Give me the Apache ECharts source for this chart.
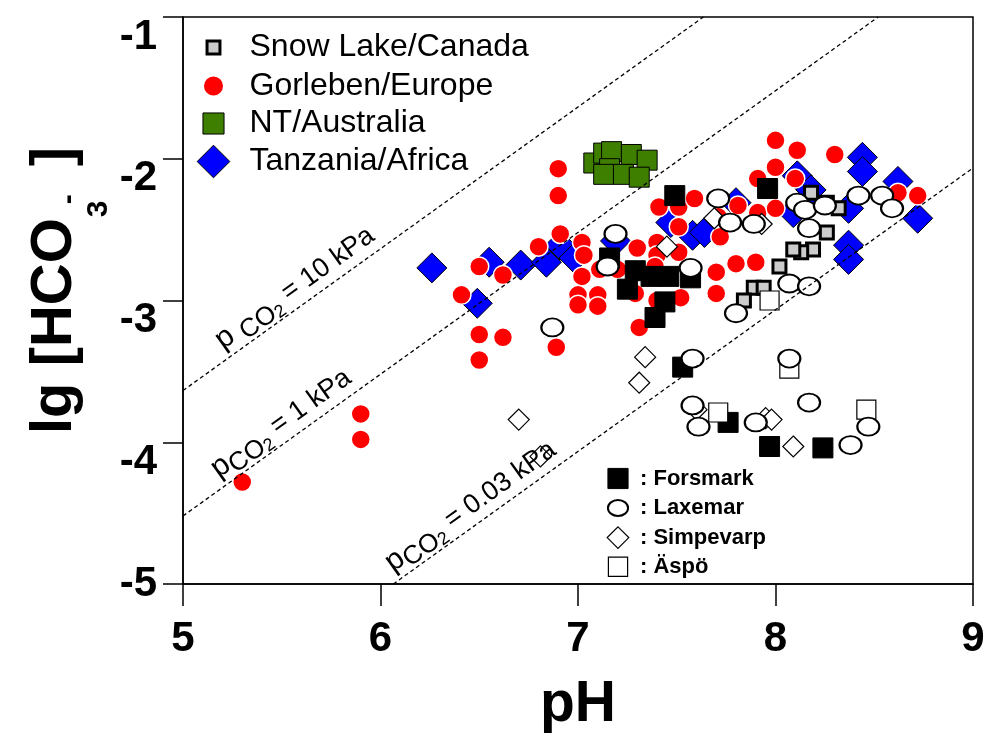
<!DOCTYPE html>
<html>
<head>
<meta charset="utf-8">
<title>lg [HCO3-] vs pH</title>
<script src="https://cdn.jsdelivr.net/npm/echarts@6/dist/echarts.min.js"></script>
<style>
  html, body { margin: 0; padding: 0; background: #fff; }
  #chart { width: 990px; height: 733px; }
</style>
</head>
<body>
<div id="chart"></div>
<script>
// ---- data: [pH, lg HCO3-] ----
const snowLake = [
  [8.18, -2.24], [8.26, -2.31], [8.32, -2.35], [8.26, -2.52], [8.19, -2.64],
  [8.13, -2.66], [8.09, -2.64], [8.02, -2.76], [7.89, -2.91], [7.94, -2.91], [7.84, -3.00]
];
const gorleben = [
  [5.30, -4.28], [5.90, -3.80], [5.90, -3.98], [6.41, -2.96], [6.50, -2.76],
  [6.62, -2.82], [6.50, -3.24], [6.62, -3.26], [6.50, -3.42], [6.80, -2.62],
  [6.89, -3.33], [6.90, -2.07], [6.90, -2.26], [6.91, -2.53], [7.02, -2.59],
  [7.03, -2.68], [7.02, -2.83], [7.00, -2.96], [7.10, -2.96], [7.00, -3.03],
  [7.10, -3.04], [7.11, -2.78], [7.20, -2.78], [7.30, -2.63], [7.31, -3.19],
  [7.29, -2.95], [7.40, -2.59], [7.40, -2.68], [7.39, -2.76], [7.51, -2.48],
  [7.51, -2.66], [7.52, -2.98], [7.40, -3.00], [7.41, -2.34], [7.51, -2.34],
  [7.59, -2.28], [7.71, -2.41], [7.72, -2.55], [7.80, -2.74], [7.90, -2.73],
  [7.70, -2.80], [7.70, -2.95], [7.91, -2.38], [8.00, -2.35], [8.00, -1.87],
  [8.11, -1.94], [8.30, -1.97], [8.00, -2.06], [7.91, -2.14], [8.10, -2.14],
  [8.62, -2.24], [8.72, -2.26], [7.81, -2.33]
];
const ntAustralia = [
  [7.08, -2.03], [7.13, -1.96], [7.17, -1.95], [7.27, -1.97], [7.35, -2.01],
  [7.16, -2.07], [7.13, -2.11], [7.23, -2.11], [7.31, -2.13]
];
const tanzania = [
  [6.26, -2.77], [6.55, -2.73], [6.49, -3.02], [6.71, -2.75], [6.84, -2.73],
  [6.91, -2.61], [6.98, -2.70], [7.19, -2.58], [7.47, -2.45], [7.58, -2.54],
  [7.64, -2.52], [7.80, -2.31], [8.11, -2.12], [8.18, -2.22], [8.09, -2.38],
  [8.37, -2.35], [8.44, -1.99], [8.44, -2.09], [8.62, -2.16], [8.72, -2.42],
  [8.37, -2.61], [8.37, -2.71]
];
const forsmark = [
  [7.16, -2.70], [7.25, -2.92], [7.29, -2.79], [7.37, -2.83], [7.46, -2.83],
  [7.57, -2.84], [7.44, -3.01], [7.39, -3.12], [7.49, -2.26], [7.96, -2.21],
  [7.53, -3.47], [7.76, -3.86], [7.97, -4.03], [8.24, -4.04]
];
const laxemar = [
  [7.15, -2.76], [7.19, -2.53], [6.87, -3.19], [7.57, -2.77], [7.71, -2.28],
  [7.77, -2.45], [7.89, -2.46], [8.11, -2.31], [8.15, -2.36], [8.25, -2.33],
  [8.17, -2.49], [8.07, -2.88], [8.17, -2.90], [7.80, -3.09], [8.42, -2.26],
  [8.54, -2.26], [8.59, -2.35], [7.58, -3.41], [8.07, -3.41], [7.58, -3.74],
  [7.61, -3.89], [7.90, -3.86], [8.17, -3.72], [8.38, -4.02], [8.47, -3.89]
];
const simpevarp = [
  [6.70, -3.84], [6.81, -4.10], [7.31, -3.58], [7.34, -3.40], [7.45, -2.62],
  [7.69, -2.42], [7.93, -2.46], [7.60, -3.77], [7.95, -3.83], [7.98, -3.84], [8.09, -4.03]
];
const aspo = [
  [7.97, -3.00], [8.07, -3.48], [7.71, -3.79], [8.46, -3.77]
];

// CO2 partial-pressure isolines (end points) and their captions
const pco2Lines = [
  { text: '10 kPa',   gap: true,  anchor: 5.62, from: [5, -3.635],  to: [7.635, -1] },
  { text: '1 kPa',    gap: false, anchor: 5.55, from: [5, -4.52],   to: [8.52, -1] },
  { text: '0.03 kPa', gap: false, anchor: 6.51, from: [6.065, -5],  to: [9, -2.065] }
];

const FONT = '"Liberation Sans", Arial, Helvetica, sans-serif';

// legend icons drawn in a 100x100 box (the bare moves fix the box extent)
const BOX = 'path://M0 0M100 100';
const icons = {
  smallSquare: BOX + 'M31 31L69 31L69 69L31 69Z',
  dot: BOX + 'M22 50A28 28 0 1 1 78 50A28 28 0 1 1 22 50Z',
  midSquare: BOX + 'M19 19L81 19L81 81L19 81Z',
  diamond: BOX + 'M50 2L98 50L50 98L2 50Z',
  fullSquare: BOX + 'M8 8L92 8L92 92L8 92Z',
  ellipse: BOX + 'M8 50A42 33 0 1 1 92 50A42 33 0 1 1 8 50Z',
  openDiamond: BOX + 'M50 5L95 50L50 95L5 50Z',
  openSquare: BOX + 'M10 10L90 10L90 90L10 90Z'
};
const ellipseSymbol = 'path://M0 50A50 40 0 1 1 100 50A50 40 0 1 1 0 50Z';

const styles = {
  snow: { color: '#cccccc', borderColor: '#000', borderWidth: 3, opacity: 1 },
  gorl: { color: '#ff0000', borderColor: '#ffffff', borderWidth: 1.5, opacity: 1 },
  nt:   { color: '#3f7f00', borderColor: '#000', borderWidth: 1, opacity: 1 },
  tanz: { color: '#0000ff', borderColor: '#000', borderWidth: 1, opacity: 1 },
  fors: { color: '#000000', borderColor: '#000', borderWidth: 1, opacity: 1 },
  laxe: { color: '#ffffff', borderColor: '#000', borderWidth: 2, opacity: 1 },
  simp: { color: '#ffffff', borderColor: '#000', borderWidth: 1.2, opacity: 1 },
  aspo: { color: '#ffffff', borderColor: '#000', borderWidth: 1.2, opacity: 1 }
};

function scatter(name, data, symbol, size, style, z) {
  return {
    type: 'scatter', name, data, symbol, symbolSize: size,
    symbolKeepAspect: false, itemStyle: style, z, silent: true,
    emphasis: { disabled: true }
  };
}

const lineSeries = pco2Lines.map(l => ({
  type: 'line', name: 'pCO2 ' + l.text, data: [l.from, l.to],
  symbol: 'none', silent: true, z: 20,
  lineStyle: { color: '#000', width: 1.3, type: [4, 3] }
}));

const tickText = { fontSize: 42, fontWeight: 'bold', fontFamily: FONT, color: '#000' };

const chart = echarts.init(document.getElementById('chart'), null, { renderer: 'canvas' });

chart.setOption({
  animation: false,
  backgroundColor: '#ffffff',
  grid: {
    left: 183, top: 17, right: 17, bottom: 149,
    outerBoundsMode: 'none', containLabel: false,
    show: true, borderColor: '#000', borderWidth: 1.5, backgroundColor: 'transparent'
  },
  xAxis: {
    type: 'value', min: 5, max: 9, interval: 1,
    name: 'pH', nameLocation: 'middle', nameGap: 93,
    nameTextStyle: { fontSize: 57, fontWeight: 'bold', fontFamily: FONT, color: '#000' },
    axisLine: { show: true, onZero: false, lineStyle: { color: '#000', width: 1.5 } },
    axisTick: { show: true, inside: false, length: 22, lineStyle: { color: '#000', width: 1.5 } },
    axisLabel: Object.assign({ margin: 34 }, tickText),
    splitLine: { show: false }
  },
  yAxis: {
    type: 'value', min: -5, max: -1, interval: 1,
    axisLine: { show: true, onZero: false, lineStyle: { color: '#000', width: 1.5 } },
    axisTick: { show: true, inside: false, length: 20, lineStyle: { color: '#000', width: 1.5 } },
    axisLabel: Object.assign({
      margin: 26,
      // the upper labels sit a little below their ticks, the bottom one level with it
      formatter: v => (v === -5 ? '{lvl|' : '{low|') + v + '}',
      rich: {
        lvl: Object.assign({}, tickText),
        low: Object.assign({ padding: [40, 0, 0, 0] }, tickText)
      }
    }, tickText),
    splitLine: { show: false }
  },
  legend: [
    {
      orient: 'vertical', left: 195, top: 29, padding: 0,
      itemWidth: 34, itemHeight: 34, itemGap: 3, selectedMode: false,
      textStyle: { fontSize: 32, fontFamily: FONT, color: '#000', padding: [0, 0, 0, 14] },
      data: [
        { name: 'Snow Lake/Canada', icon: icons.smallSquare, itemStyle: styles.snow },
        { name: 'Gorleben/Europe',  icon: icons.dot,         itemStyle: { color: '#ff0000', borderWidth: 0, opacity: 1 } },
        { name: 'NT/Australia',     icon: icons.midSquare,   itemStyle: styles.nt },
        { name: 'Tanzania/Africa',  icon: icons.diamond,     itemStyle: styles.tanz }
      ]
    },
    {
      orient: 'vertical', left: 605, top: 466, padding: 0,
      itemWidth: 24, itemHeight: 24, itemGap: 4, selectedMode: false,
      formatter: ': {name}',
      textStyle: { fontSize: 22, fontWeight: 'bold', fontFamily: FONT, color: '#000', padding: [0, 0, 0, 5] },
      data: [
        { name: 'Forsmark',  icon: icons.fullSquare,  itemStyle: styles.fors },
        { name: 'Laxemar',   icon: icons.ellipse,     itemStyle: styles.laxe },
        { name: 'Simpevarp', icon: icons.openDiamond, itemStyle: styles.simp },
        { name: 'Äspö',      icon: icons.openSquare,  itemStyle: styles.aspo }
      ]
    }
  ],
  series: [
    scatter('Tanzania/Africa', tanzania, 'diamond', 30, styles.tanz, 3),
    scatter('Gorleben/Europe', gorleben, 'circle', 19, styles.gorl, 4),
    scatter('NT/Australia', ntAustralia, 'rect', 20, styles.nt, 5),
    scatter('Snow Lake/Canada', snowLake, 'rect', 13, styles.snow, 6),
    scatter('Forsmark', forsmark, 'rect', 20, styles.fors, 7),
    scatter('Simpevarp', simpevarp, 'diamond', 21, styles.simp, 8),
    scatter('Äspö', aspo, 'rect', 19, styles.aspo, 9),
    scatter('Laxemar', laxemar, ellipseSymbol, [22, 18], styles.laxe, 10)
  ].concat(lineSeries)
});

// ---- rotated captions along the isolines and the y-axis title ----
const toPx = p => chart.convertToPixel({ gridIndex: 0 }, p);
const captionRich = {
  p:  { fontSize: 30, fontFamily: FONT, color: '#000', lineHeight: 40, verticalAlign: 'middle' },
  co: { fontSize: 26, fontFamily: FONT, color: '#000', lineHeight: 22, verticalAlign: 'bottom' },
  s:  { fontSize: 18, fontFamily: FONT, color: '#000', lineHeight: 15, verticalAlign: 'bottom' },
  t:  { fontSize: 27, fontFamily: FONT, color: '#000', lineHeight: 40, verticalAlign: 'middle' }
};
const graphics = pco2Lines.map(l => {
  const a = toPx(l.from), b = toPx(l.to);
  const ang = Math.atan2(a[1] - b[1], b[0] - a[0]);
  const t = (l.anchor - l.from[0]) / (l.to[0] - l.from[0]);
  const px = a[0] + (b[0] - a[0]) * t, py = a[1] + (b[1] - a[1]) * t;
  const off = 18;
  return {
    type: 'text', x: px - off * Math.sin(ang), y: py - off * Math.cos(ang), rotation: ang,
    silent: true, z: 30,
    style: {
      text: '{p|p' + (l.gap ? ' ' : '') + '}{co|CO}{s|2}{t| = ' + l.text + '}',
      rich: captionRich, align: 'center', verticalAlign: 'middle'
    }
  };
});

// y-axis title: lg [HCO3-] with sub/superscript
const ctx = document.createElement('canvas').getContext('2d');
const mainFont = 58, smallFont = 30;
ctx.font = 'bold ' + mainFont + 'px ' + FONT;
const wMain = ctx.measureText('lg [HCO').width;
const titleBase = { fontWeight: 'bold', fontFamily: FONT, fill: '#000', align: 'left', verticalAlign: 'middle' };
graphics.push({
  type: 'group', x: 55, y: 434, rotation: Math.PI / 2, silent: true,
  children: [
    { type: 'text', x: 0, y: 0, style: Object.assign({ text: 'lg [HCO', fontSize: mainFont }, titleBase) },
    { type: 'text', x: wMain + 1, y: 44, style: Object.assign({ text: '3', fontSize: smallFont }, titleBase) },
    { type: 'text', x: wMain + 14, y: 14, style: Object.assign({ text: '-', fontSize: smallFont }, titleBase) },
    { type: 'text', x: wMain + 52, y: 0, style: Object.assign({ text: ']', fontSize: mainFont }, titleBase) }
  ]
});
chart.setOption({ graphic: graphics });
</script>
</body>
</html>
